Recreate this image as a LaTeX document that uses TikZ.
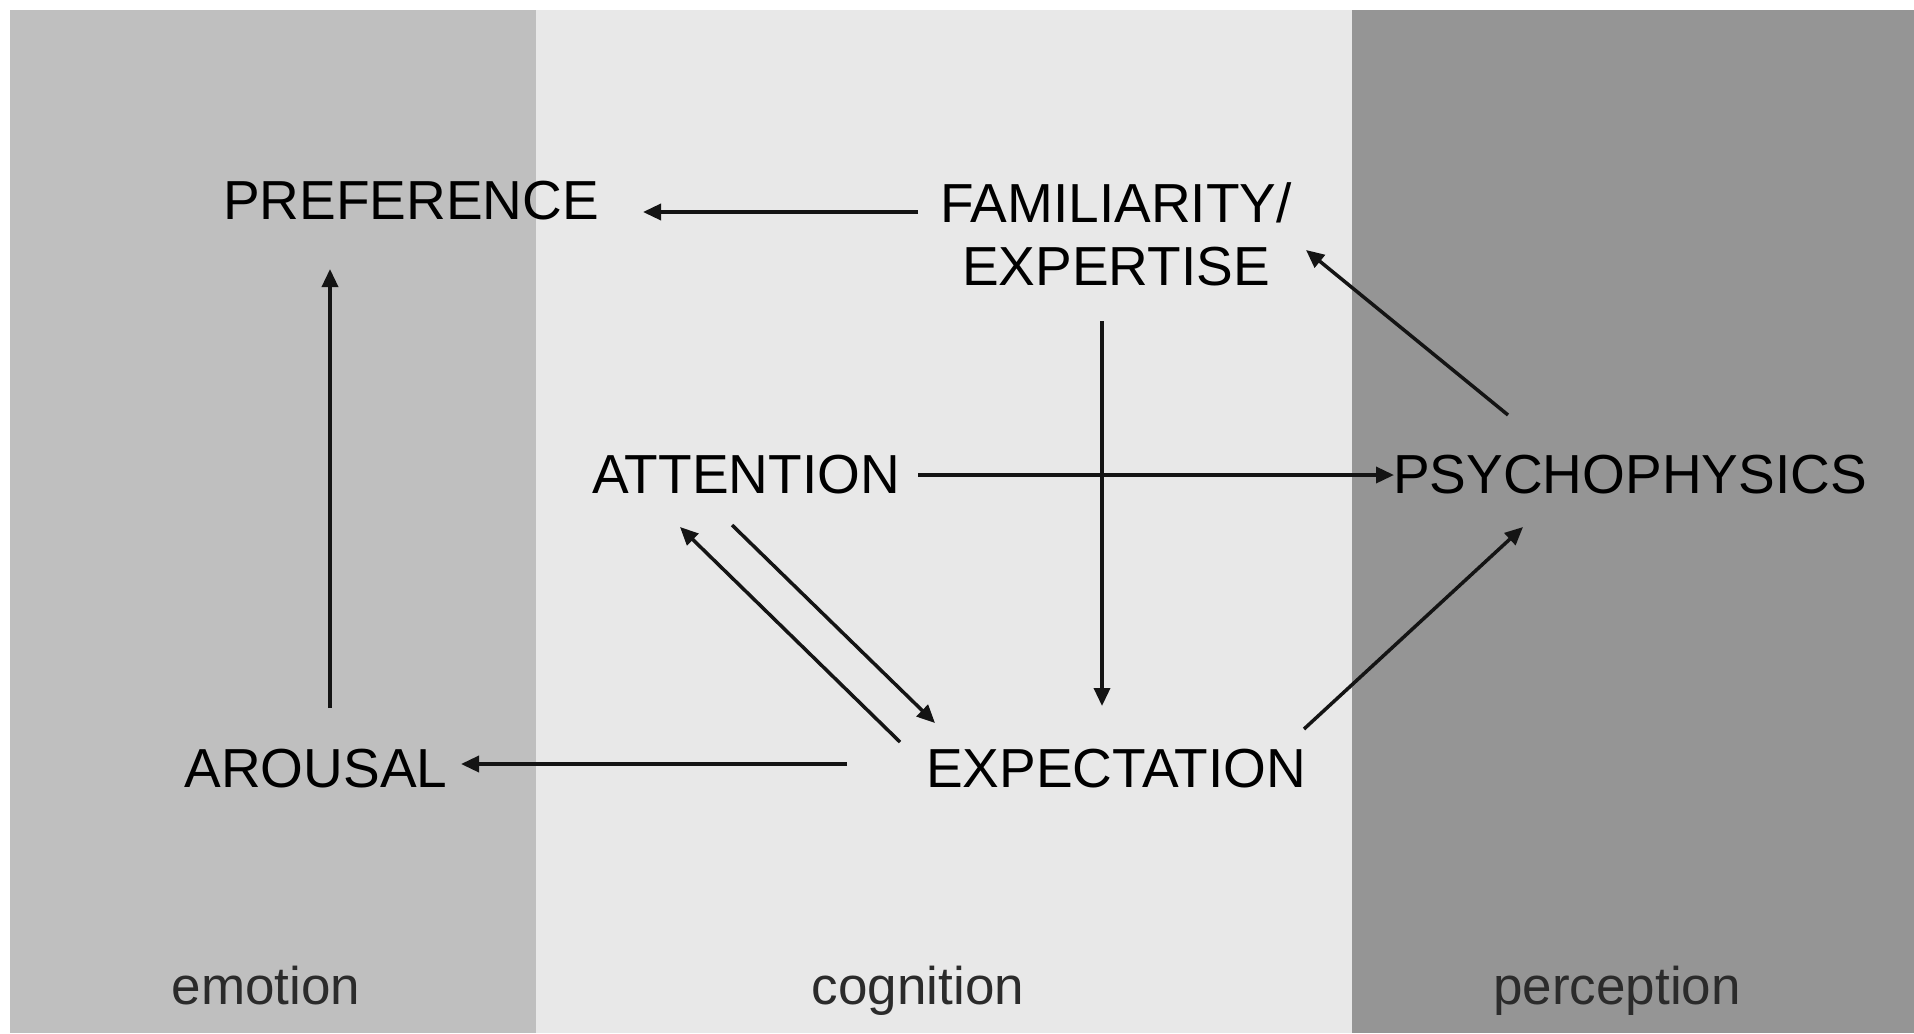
\documentclass[tikz,border=0pt]{standalone}
\usepackage{fontspec}
\setmainfont{Liberation Sans}
\usetikzlibrary{arrows.meta,calc}
\definecolor{emobg}{gray}{0.75}
\definecolor{cogbg}{gray}{0.91}
\definecolor{perbg}{gray}{0.585}
\definecolor{catgray}{gray}{0.17}
\definecolor{arrgray}{gray}{0.08}
\tikzset{
  lbl/.style={font=\fontsize{27.5}{31.5}\selectfont, inner sep=0pt, align=center, text=black},
  cat/.style={font=\fontsize{26.5}{30}\selectfont, inner sep=0pt, anchor=base, text=catgray},
  arr/.style={draw=arrgray, line width=1.75pt, -{Triangle[length=9pt,width=8pt]}}
}
\begin{document}
\begin{tikzpicture}[x=0.5pt,y=-0.5pt]
\useasboundingbox (0,0) rectangle (1914,1033);
\fill[white] (0,0) rectangle (1914,1033);
\fill[emobg] (10,10) rectangle (536,1033);
\fill[cogbg] (536,10) rectangle (1352,1033);
\fill[perbg] (1352,10) rectangle (1914,1033);

\node[lbl] (pref) at (411,201) {PREFERENCE};
\node[lbl] (fam) at (1116,234.5) {FAMILIARITY/\\EXPERTISE};
\node[lbl] (att) at (746,475) {ATTENTION};
\node[lbl] (psy) at (1630,475) {PSYCHOPHYSICS};
\node[lbl] (exp) at (1116,769) {EXPECTATION};
\node[lbl] (aro) at (316,769) {AROUSAL};

\node[cat] (emo) at (266,1004) {emotion};
\node[cat] (cog) at (918,1004) {cognition};
\node[cat] (per) at (1617,1004) {perception};

\draw[arr] ($(fam)+(-198,-22.5)$) -- ($(pref)+(232,11)$);
\draw[arr] ($(fam)+(-14,86.5)$) -- ($(exp)+(-14,-63)$);
\draw[arr] ($(psy)+(-122,-60)$) -- ($(fam)+(190,15.5)$);
\draw[arr] ($(att)+(172,0)$) -- ($(psy)+(-236,0)$);
\draw[arr] ($(att)+(-14,50)$) -- ($(exp)+(-181,-46)$);
\draw[arr] ($(exp)+(-216,-27)$) -- ($(att)+(-66,52)$);
\draw[arr] ($(exp)+(-269,-5)$) -- ($(aro)+(145,-5)$);
\draw[arr] ($(aro)+(14,-61)$) -- ($(pref)+(-81,68)$);
\draw[arr] ($(exp)+(188,-40)$) -- ($(psy)+(-107,52)$);
\end{tikzpicture}
\end{document}
